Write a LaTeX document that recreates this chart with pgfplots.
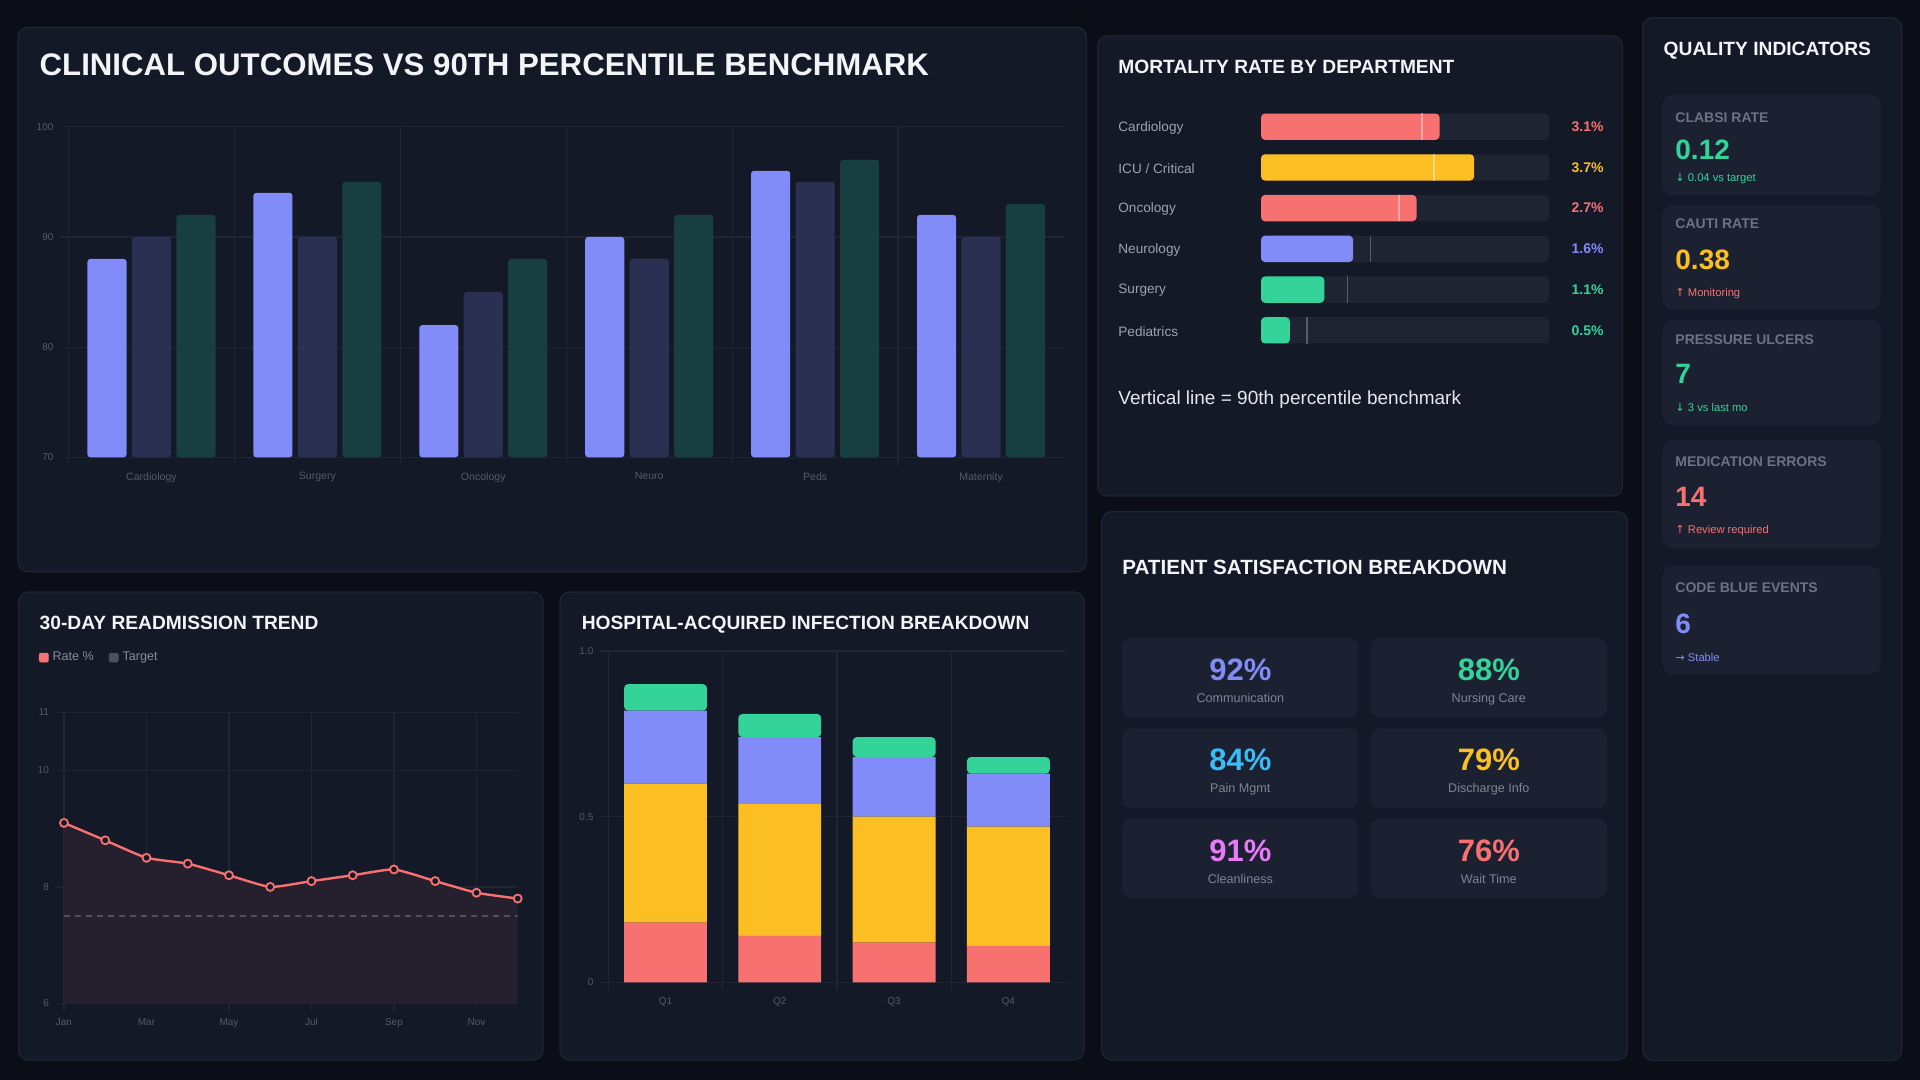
\documentclass[border=0pt]{standalone}
\usepackage{pgfplots}
\pgfplotsset{compat=1.18}
\usepackage{fontspec}
\setmainfont{Liberation Sans}
\newfontfamily\dejavu{DejaVu Sans}
\definecolor{pagebg}{HTML}{0B0E17}
\definecolor{panelbg}{HTML}{141928}
\definecolor{panelbd}{HTML}{1F2535}
\definecolor{cardbg}{HTML}{1C2131}
\definecolor{gridc}{HTML}{1F2535}
\definecolor{tickc}{HTML}{545A69}
\definecolor{titlec}{HTML}{F3F4F6}
\definecolor{labelc}{HTML}{9CA3AF}
\definecolor{mutedc}{HTML}{6B7280}
\definecolor{legc}{HTML}{858B98}
\definecolor{satlab}{HTML}{7D8494}
\definecolor{notec}{HTML}{E5E7EB}
\definecolor{cIndigo}{HTML}{818CF8}
\definecolor{cNavy}{HTML}{2A3052}
\definecolor{cTeal}{HTML}{183F3F}
\definecolor{cRed}{HTML}{F87171}
\definecolor{cAmber}{HTML}{FBBF24}
\definecolor{cGreen}{HTML}{34D399}
\definecolor{cSky}{HTML}{38BDF8}
\definecolor{cPink}{HTML}{E879F9}
\definecolor{trackc}{HTML}{1F2433}
\definecolor{benchc}{HTML}{565C6A}
\definecolor{areac}{HTML}{26202E}
\definecolor{targetc}{HTML}{4B5160}
\newcommand\myfs[1]{\fontsize{#1}{#1}\selectfont}
\pgfplotsset{dboard/.style={scale only axis, anchor=south west, axis line style={draw=none},
  grid style={gridc, line width=0.6pt}, minor grid style={gridc, line width=0.6pt},
  tick style={gridc, line width=0.6pt}, tick align=outside, tick pos=left,
  major tick length=4pt, minor tick length=4pt,
  ticklabel style={font=\myfs{5}, text=tickc},
  /pgf/number format/assume math mode=true}}
\begin{document}
\begin{tikzpicture}[x=0.5pt,y=-0.5pt]
\path[use as bounding box, fill=pagebg] (0,0) rectangle (1920,1080);
\tikzset{panel/.style={fill=panelbg, draw=panelbd, line width=0.6pt, rounded corners=5pt},
  card/.style={fill=cardbg, rounded corners=5pt},
  ttl/.style={anchor=base west, inner sep=0, font=\bfseries\myfs{9.6}, text=titlec}}
% panels
\path[panel] (18,27.3) rectangle (1086.4,571.8);
\path[panel] (1097.7,36) rectangle (1622.4,496);
\path[panel] (1642.7,17.8) rectangle (1901.7,1060.4);
\path[panel] (18.4,592) rectangle (543,1060);
\path[panel] (560,592) rectangle (1084,1060);
\path[panel] (1101.7,511.7) rectangle (1627.4,1060);
% titles
\node[ttl, font=\bfseries\myfs{15.6}] at (39.3,76) {CLINICAL OUTCOMES VS 90TH PERCENTILE BENCHMARK};
\node[ttl] at (1118,73.3) {MORTALITY RATE BY DEPARTMENT};
\node[ttl] at (1663.3,55.5) {QUALITY INDICATORS};
\node[ttl] at (39.3,629.3) {30-DAY READMISSION TREND};
\node[ttl] at (581.4,629.3) {HOSPITAL-ACQUIRED INFECTION BREAKDOWN};
\node[ttl, font=\bfseries\myfs{10.3}] at (1122,574) {PATIENT SATISFACTION BREAKDOWN};

% ---------- Chart 1: clinical outcomes ----------
\begin{axis}[dboard, at={(34.25pt,-228.65pt)}, width=497.75pt, height=165.3pt,
  xmin=-0.5, xmax=5.5, ymin=70, ymax=100,
  ytick={70,80,90,100}, ymajorgrids,
  xtick={0,...,5}, xticklabels={Cardiology,Surgery,Oncology,Neuro,Peds,Maternity},
  minor xtick={-0.5,0.5,1.5,2.5,3.5,4.5}, xminorgrids,
  major x tick style={draw=none},
  xticklabel style={font=\myfs{5.3}}]
\addplot[ybar, bar width=0.236, bar shift=-0.268, fill=cIndigo, draw=none, rounded corners=1.5pt]
  coordinates {(0,88) (1,94) (2,82) (3,90) (4,96) (5,92)};
\addplot[ybar, bar width=0.236, bar shift=0, fill=cNavy, draw=none, rounded corners=1.5pt]
  coordinates {(0,90) (1,90) (2,85) (3,88) (4,95) (5,90)};
\addplot[ybar, bar width=0.236, bar shift=0.268, fill=cTeal, draw=none, rounded corners=1.5pt]
  coordinates {(0,92) (1,95) (2,88) (3,92) (4,97) (5,93)};
\end{axis}

% ---------- Chart 2: mortality ----------
\begin{axis}[scale only axis, hide axis, clip=false, anchor=south west,
  at={(630.5pt,-175.35pt)}, width=144pt, height=122.2pt,
  xmin=0, xmax=5, ymin=-0.5, ymax=5.5, y dir=reverse]
\addplot[xbar, bar width=0.646, bar shift=0, fill=trackc, draw=none, rounded corners=2pt]
  coordinates {(5,0) (5,1) (5,2) (5,3) (5,4) (5,5)};
\addplot[xbar, bar width=0.646, bar shift=0, fill=cRed, draw=none, rounded corners=2pt]
  coordinates {(3.1,0) (2.7,2)};
\addplot[xbar, bar width=0.646, bar shift=0, fill=cAmber, draw=none, rounded corners=2pt]
  coordinates {(3.7,1)};
\addplot[xbar, bar width=0.646, bar shift=0, fill=cIndigo, draw=none, rounded corners=2pt]
  coordinates {(1.6,3)};
\addplot[xbar, bar width=0.646, bar shift=0, fill=cGreen, draw=none, rounded corners=2pt]
  coordinates {(1.1,4) (0.5,5)};
\addplot[only marks, mark=|, mark size=6.6pt, mark options={draw=white, draw opacity=0.4, line width=0.9pt}]
  coordinates {(2.8,0) (3.0,1) (2.4,2)};
\addplot[only marks, mark=|, mark size=6.6pt, mark options={draw=benchc, line width=0.9pt}]
  coordinates {(1.9,3) (1.5,4) (0.8,5)};
\tikzset{rl/.style={anchor=west, inner sep=0, font=\myfs{6.8}, text=labelc},
  vl/.style={anchor=east, inner sep=0, font=\bfseries\myfs{7}}}
\node[rl] at (axis cs:-2.483,0.02) {Cardiology};
\node[rl] at (axis cs:-2.483,1.02) {ICU / Critical};
\node[rl] at (axis cs:-2.483,2.02) {Oncology};
\node[rl] at (axis cs:-2.483,3.02) {Neurology};
\node[rl] at (axis cs:-2.483,4.02) {Surgery};
\node[rl] at (axis cs:-2.483,5.02) {Pediatrics};
\node[vl, text=cRed] at (axis cs:5.955,0) {3.1\%};
\node[vl, text=cAmber] at (axis cs:5.955,1) {3.7\%};
\node[vl, text=cRed] at (axis cs:5.955,2) {2.7\%};
\node[vl, text=cIndigo] at (axis cs:5.955,3) {1.6\%};
\node[vl, text=cGreen] at (axis cs:5.955,4) {1.1\%};
\node[vl, text=cGreen] at (axis cs:5.955,5) {0.5\%};
\end{axis}
\node[anchor=base west, inner sep=0, font=\myfs{9.5}, text=notec] at (1118,404) {Vertical line = 90th percentile benchmark};

% ---------- Chart 4: readmission ----------
\begin{axis}[dboard, at={(32pt,-501.65pt)}, width=226.85pt, height=145.5pt,
  xmin=0, xmax=11, ymin=6, ymax=11, ytick={6,8,10,11},
  xtick={0,2,4,6,8,10}, xticklabels={Jan,Mar,May,Jul,Sep,Nov}, grid=major,
  legend columns=-1,
  legend style={at={(axis description cs:-0.056,1.188)}, anchor=west, draw=none, fill=none,
    inner sep=0pt, font=\myfs{6.3}, text=legc,
    /tikz/every even column/.append style={column sep=5.5pt}}]
\addplot[forget plot, fill=areac, draw=none, smooth, tension=0.3]
  coordinates {(0,9.1) (1,8.8) (2,8.5) (3,8.4) (4,8.2) (5,8.0) (6,8.1) (7,8.2) (8,8.3) (9,8.1) (10,7.9) (11,7.8)} \closedcycle;
\addplot[forget plot, targetc, line width=0.8pt, dash pattern=on 3pt off 2.5pt]
  coordinates {(0,7.5) (11,7.5)};
\addplot[forget plot, cRed, line width=1.2pt, smooth, tension=0.3, mark=*, mark size=2pt,
  mark options={fill=panelbg, draw=cRed, line width=0.9pt}]
  coordinates {(0,9.1) (1,8.8) (2,8.5) (3,8.4) (4,8.2) (5,8.0) (6,8.1) (7,8.2) (8,8.3) (9,8.1) (10,7.9) (11,7.8)};
\addlegendimage{legend image code/.code={\fill[cRed,rounded corners=0.6pt] (0pt,-2.2pt) rectangle (4.4pt,2.2pt);}}
\addlegendentry{Rate \%}
\addlegendimage{legend image code/.code={\fill[targetc,rounded corners=0.6pt] (0pt,-2.2pt) rectangle (4.4pt,2.2pt);}}
\addlegendentry{Target}
\end{axis}

% ---------- Chart 5: infection ----------
\begin{axis}[dboard, at={(304.2pt,-491.15pt)}, width=228.55pt, height=165.65pt,
  xmin=-0.5, xmax=3.5, ymin=0, ymax=1, ytick={0,0.5,1}, yticklabels={0,0.5,1.0}, ymajorgrids,
  xtick={0,1,2,3}, xticklabels={Q1,Q2,Q3,Q4},
  minor xtick={-0.5,0.5,1.5,2.5}, xminorgrids, major x tick style={draw=none},
  ybar stacked, bar width=0.725]
\addplot[fill=cRed, draw=none] coordinates {(0,0.18) (1,0.14) (2,0.12) (3,0.11)};
\addplot[fill=cAmber, draw=none] coordinates {(0,0.42) (1,0.40) (2,0.38) (3,0.36)};
\addplot[fill=cIndigo, draw=none] coordinates {(0,0.22) (1,0.20) (2,0.18) (3,0.16)};
\addplot[fill=cGreen, draw=none, rounded corners=2pt] coordinates {(0,0.08) (1,0.07) (2,0.06) (3,0.05)};
\end{axis}

% ---------- Quality indicators ----------
\tikzset{ql/.style={anchor=base west, inner sep=0, font=\bfseries\myfs{7}, text=mutedc},
  qv/.style={anchor=base west, inner sep=0, font=\bfseries\myfs{14}},
  qs/.style={anchor=base west, inner sep=0, font=\myfs{5.6}}}
\path[card] (1662.7,94.6) rectangle (1880.7,195.6);
\path[card] (1662.7,205) rectangle (1880.7,310);
\path[card] (1662.7,320) rectangle (1880.7,425.4);
\path[card] (1662.7,440) rectangle (1880.7,548.6);
\path[card] (1662.7,566) rectangle (1880.7,674);
\node[ql] at (1675,122.7) {CLABSI RATE};
\node[qv, text=cGreen] at (1675,159.6) {0.12};
\node[qs, text=cGreen] at (1675,181.5) {{\dejavu ↓} 0.04 vs target};
\node[ql] at (1675,229) {CAUTI RATE};
\node[qv, text=cAmber] at (1675,269.3) {0.38};
\node[qs, text=cRed] at (1675,296.5) {{\dejavu ↑} Monitoring};
\node[ql] at (1675,344.3) {PRESSURE ULCERS};
\node[qv, text=cGreen] at (1675,383.8) {7};
\node[qs, text=cGreen] at (1675,411) {{\dejavu ↓} 3 vs last mo};
\node[ql] at (1675,466.2) {MEDICATION ERRORS};
\node[qv, text=cRed] at (1675,506.5) {14};
\node[qs, text=cRed] at (1675,533.5) {{\dejavu ↑} Review required};
\node[ql] at (1675,592) {CODE BLUE EVENTS};
\node[qv, text=cIndigo] at (1675,633.6) {6};
\node[qs, text=cIndigo] at (1675,661) {{\dejavu →} Stable};

% ---------- Patient satisfaction ----------
\tikzset{sv/.style={anchor=base, inner sep=0, font=\bfseries\myfs{15.5}},
  sl/.style={anchor=base, inner sep=0, font=\myfs{6.3}, text=satlab}}
\path[card] (1122,637.7) rectangle (1358.6,717.7);
\path[card] (1370.5,637.7) rectangle (1607.1,717.7);
\path[card] (1122,728.3) rectangle (1358.6,808.3);
\path[card] (1370.5,728.3) rectangle (1607.1,808.3);
\path[card] (1122,818.3) rectangle (1358.6,898.3);
\path[card] (1370.5,818.3) rectangle (1607.1,898.3);
\node[sv, text=cIndigo] at (1240.3,680.7) {92\%};
\node[sl] at (1240.3,702.7) {Communication};
\node[sv, text=cGreen] at (1488.8,680.7) {88\%};
\node[sl] at (1488.8,702.7) {Nursing Care};
\node[sv, text=cSky] at (1240.3,770.7) {84\%};
\node[sl] at (1240.3,792.7) {Pain Mgmt};
\node[sv, text=cAmber] at (1488.8,770.7) {79\%};
\node[sl] at (1488.8,792.7) {Discharge Info};
\node[sv, text=cPink] at (1240.3,861) {91\%};
\node[sl] at (1240.3,883) {Cleanliness};
\node[sv, text=cRed] at (1488.8,861) {76\%};
\node[sl] at (1488.8,883) {Wait Time};
\end{tikzpicture}
\end{document}
